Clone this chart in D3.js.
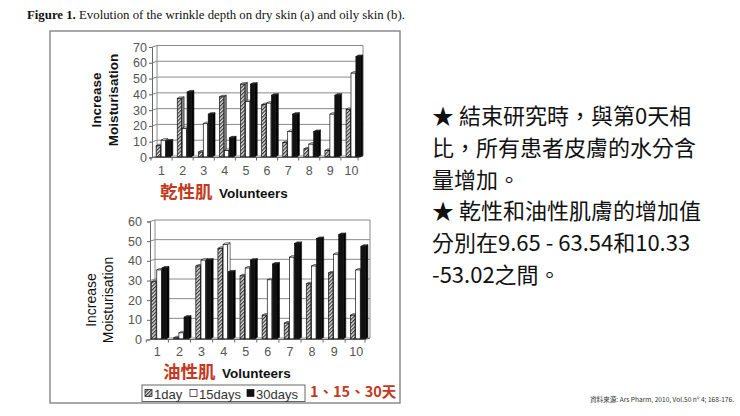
<!DOCTYPE html>
<html>
<head>
<meta charset="utf-8">
<script src="https://cdn.jsdelivr.net/npm/d3@7/dist/d3.min.js"></script>
<style>
  html, body { margin: 0; padding: 0; background: #fff; }
  svg { display: block; }
</style>
</head>
<body>
<svg id="chart" width="740" height="416"></svg>
<script>
// values (Ars Pharm 2010)
const volunteers = ["1", "2", "3", "4", "5", "6", "7", "8", "9", "10"]
const series = ["1day", "15days", "30days"]

const dry1day = [7, 37, 3, 38, 46, 33, 9, 5, 4, 30]
const dry15days = [10.5, 18, 21, 4, 35, 34, 16, 8, 27, 53]
const dry30days = [10, 41, 27, 12, 46, 39, 27, 16, 39, 63.5]

const oily1day = [29, 0.5, 37, 46, 32, 12, 8, 28, 33.5, 12]
const oily15days = [35, 3, 40, 48, 36, 30, 41.5, 37, 43, 35]
const oily30days = [36, 11, 40, 34, 40, 38, 48.5, 51, 53, 47]

const dryTicks = [0, 10, 20, 30, 40, 50, 60, 70]
const oilyTicks = [0, 10, 20, 30, 40, 50, 60]

const noteLines = [
    "★ 結束研究時，與第0天相",
    "比，所有患者皮膚的水分含",
    "量增加。",
    "★ 乾性和油性肌膚的增加值",
    "分別在9.65 - 63.54和10.33",
    "-53.02之間。"
]

const svg = d3.select("#chart")
const red = "#c23a22"
const sans = "'Liberation Sans', Arial, sans-serif"
const cjk = "'Noto Sans CJK TC', sans-serif"

// hatch pattern for the 1day bars
const defs = svg.append("defs")
const hatch = defs.append("pattern")
    .attr("id", "hatch")
    .attr("patternUnits", "userSpaceOnUse")
    .attr("width", 2.6)
    .attr("height", 2.6)
    .attr("patternTransform", "rotate(45)")
hatch.append("rect").attr("width", 2.6).attr("height", 2.6).attr("fill", "#e4e4e4")
hatch.append("line").attr("x1", 0.6).attr("x2", 0.6).attr("y1", 0).attr("y2", 2.6)
    .attr("stroke", "#333").attr("stroke-width", 1.2)

const fills = ["url(#hatch)", "#fff", "#111"]
const sideFills = ["#888", "#fff", "#000"]
const topFills = ["#bbb", "#fff", "#333"]

// caption
const cap = svg.append("text")
    .attr("x", 27).attr("y", 19)
    .style("font-family", "'Liberation Serif', 'Times New Roman', serif")
    .style("font-size", "12.8px")
    .attr("fill", "#111")
cap.append("tspan").style("font-weight", "bold").text("Figure 1.")
cap.append("tspan").text(" Evolution of the wrinkle depth on dry skin (a) and oily skin (b).")

// figure frame
svg.append("rect")
    .attr("x", 50).attr("y", 31).attr("width", 350).attr("height", 372)
    .attr("fill", "none").attr("stroke", "#7a7a7a").attr("stroke-width", 1.3)

function drawChart(cfg){
    const g = svg.append("g")
    const dx = 5, dy = -1.5
    const bdx = 2.5, bdy = -1.5

    const y = d3.scaleLinear().domain([0, cfg.yMax]).range([cfg.yBottom, cfg.yTop])
    const x = d3.scaleBand().domain(volunteers).range(cfg.xRange)
        .paddingInner(0.3).paddingOuter(0.15)
    const xs = d3.scaleBand().domain(series).range([0, x.bandwidth()])

    const wallL = cfg.axisX + dx
    const wallR = cfg.wallRight

    // back wall gridlines
    g.selectAll(".grid").data(cfg.ticks).enter().append("line")
        .attr("x1", wallL).attr("x2", wallR)
        .attr("y1", d => y(d) + dy).attr("y2", d => y(d) + dy)
        .attr("stroke", "#8a8a8a").attr("stroke-width", 1)
    g.append("line")
        .attr("x1", wallR).attr("x2", wallR)
        .attr("y1", y(0) + dy).attr("y2", y(cfg.yMax) + dy)
        .attr("stroke", "#8a8a8a")
    // side wall
    g.selectAll(".side").data(cfg.ticks).enter().append("line")
        .attr("x1", cfg.axisX).attr("x2", wallL)
        .attr("y1", d => y(d)).attr("y2", d => y(d) + dy)
        .attr("stroke", "#8a8a8a")
    g.append("line")
        .attr("x1", wallL).attr("x2", wallL)
        .attr("y1", y(0) + dy).attr("y2", y(cfg.yMax) + dy)
        .attr("stroke", "#8a8a8a")

    // front y axis
    const yAxis = d3.axisLeft(y).tickValues(cfg.ticks).tickSize(3).tickPadding(cfg.tickGap)
    const ya = g.append("g").attr("transform", `translate(${cfg.axisX},0)`).call(yAxis)
    ya.select(".domain").attr("stroke", "#666")
    ya.selectAll(".tick line").attr("stroke", "#666")
    ya.selectAll("text")
        .style("font-family", sans).style("font-size", "12.5px").attr("fill", "#555")

    // floor and x axis
    const frontR = wallR - dx
    g.append("line")
        .attr("x1", cfg.axisX).attr("x2", frontR)
        .attr("y1", y(0)).attr("y2", y(0))
        .attr("stroke", "#666")
    g.append("line")
        .attr("x1", frontR).attr("x2", wallR)
        .attr("y1", y(0)).attr("y2", y(0) + dy)
        .attr("stroke", "#666")
    const bounds = volunteers.map(v => x(v) - x.step() * x.paddingInner() / 2)
    bounds.push(frontR)
    g.selectAll(".xt").data(bounds).enter().append("line")
        .attr("x1", d => d).attr("x2", d => d)
        .attr("y1", y(0)).attr("y2", y(0) + 3)
        .attr("stroke", "#666")
    g.selectAll(".xl").data(volunteers).enter().append("text")
        .attr("x", d => x(d) + x.bandwidth() / 2)
        .attr("y", cfg.labelY)
        .attr("text-anchor", "middle")
        .style("font-family", sans).style("font-size", "12.5px").attr("fill", "#555")
        .text(d => d)

    // 3d bars
    const rows = []
    volunteers.forEach((v, i) => {
        cfg.values.forEach((vals, s) => {
            rows.push({ v: v, s: s, val: vals[i] })
        })
    })
    const bw = xs.bandwidth() - 0.6
    const bars = g.selectAll(".bar").data(rows).enter().append("g")
        .attr("transform", d => `translate(${x(d.v) + xs(series[d.s]) + 2},${-0.7})`)
    bars.append("path")
        .attr("d", d => {
            const t = y(d.val), b = y(0)
            return `M${bw},${t}L${bw + bdx},${t + bdy}L${bw + bdx},${b + bdy}L${bw},${b}Z`
        })
        .attr("fill", d => sideFills[d.s]).attr("stroke", "#111").attr("stroke-width", 0.6)
    bars.append("path")
        .attr("d", d => {
            const t = y(d.val)
            return `M0,${t}L${bdx},${t + bdy}L${bw + bdx},${t + bdy}L${bw},${t}Z`
        })
        .attr("fill", d => topFills[d.s]).attr("stroke", "#111").attr("stroke-width", 0.6)
    bars.append("rect")
        .attr("x", 0).attr("width", bw)
        .attr("y", d => y(d.val))
        .attr("height", d => y(0) - y(d.val))
        .attr("fill", d => fills[d.s]).attr("stroke", "#111").attr("stroke-width", 0.7)

    // y title
    const yt = g.append("text")
        .attr("transform", `translate(${cfg.titleX},${cfg.titleY}) rotate(-90)`)
        .attr("text-anchor", "middle")
        .style("font-family", sans).style("font-size", cfg.titleSize)
        .style("font-weight", cfg.titleWeight).attr("fill", "#111")
    yt.append("tspan").attr("x", 0).attr("dy", 0).text("Increase")
    yt.append("tspan").attr("x", 0).attr("dy", cfg.titleLead).text("Moisturisation")

    // x title
    g.append("text")
        .attr("x", cfg.xTitleX).attr("y", cfg.xTitleY)
        .style("font-family", cjk)
        .style("font-size", "17.5px").style("font-weight", "bold").attr("fill", red)
        .text(cfg.skin)
    g.append("text")
        .attr("x", cfg.xTitleX + 59).attr("y", cfg.xTitleY - 0.5)
        .style("font-family", sans).style("font-size", "13.5px").style("font-weight", "bold")
        .attr("fill", "#111")
        .text("Volunteers")
}

drawChart({
    values: [dry1day, dry15days, dry30days],
    yMax: 70, ticks: dryTicks,
    yBottom: 157.5, yTop: 47,
    xRange: [151, 362], axisX: 152, wallRight: 363, tickGap: 2,
    labelY: 175,
    titleX: 101, titleY: 100, titleSize: "13.5px", titleWeight: "bold", titleLead: 17,
    skin: "乾性肌", xTitleX: 160, xTitleY: 198
})

drawChart({
    values: [oily1day, oily15days, oily30days],
    yMax: 60, ticks: oilyTicks,
    yBottom: 339.5, yTop: 221.5,
    xRange: [146.3, 367.3], axisX: 150, wallRight: 370, tickGap: 5,
    labelY: 355.5,
    titleX: 96, titleY: 300, titleSize: "14px", titleWeight: "normal", titleLead: 16.5,
    skin: "油性肌", xTitleX: 163, xTitleY: 378
})

// legend
const legend = svg.append("g")
legend.append("rect")
    .attr("x", 142).attr("y", 385).attr("width", 163).attr("height", 16.5)
    .attr("fill", "#fff").attr("stroke", "#666").attr("stroke-width", 1)
const legendX = [145, 190, 247]
series.forEach((s, i) => {
    legend.append("rect")
        .attr("x", legendX[i]).attr("y", 389.5).attr("width", 7).attr("height", 7)
        .attr("fill", fills[i]).attr("stroke", "#111").attr("stroke-width", 0.7)
    legend.append("text")
        .attr("x", legendX[i] + 9).attr("y", 398.5)
        .style("font-family", sans).style("font-size", "13px").attr("fill", "#333")
        .text(s)
})
svg.append("text")
    .attr("x", 310).attr("y", 396.5)
    .style("font-family", cjk)
    .style("font-size", "14.5px").style("font-weight", "bold").attr("fill", red)
    .text("1、15、30天")

// notes on the right
svg.append("g").selectAll("text").data(noteLines).enter().append("text")
    .attr("x", 432)
    .attr("y", (d, i) => 124 + i * 31.8)
    .style("font-family", cjk)
    .style("font-size", "22px").attr("fill", "#111")
    .text(d => d)

svg.append("text")
    .attr("x", 590).attr("y", 401.5)
    .style("font-family", cjk)
    .style("font-size", "6.6px").attr("fill", "#333")
    .text("資料來源: Ars Pharm, 2010, Vol.50 nº 4; 168-176.")
</script>
</body>
</html>
